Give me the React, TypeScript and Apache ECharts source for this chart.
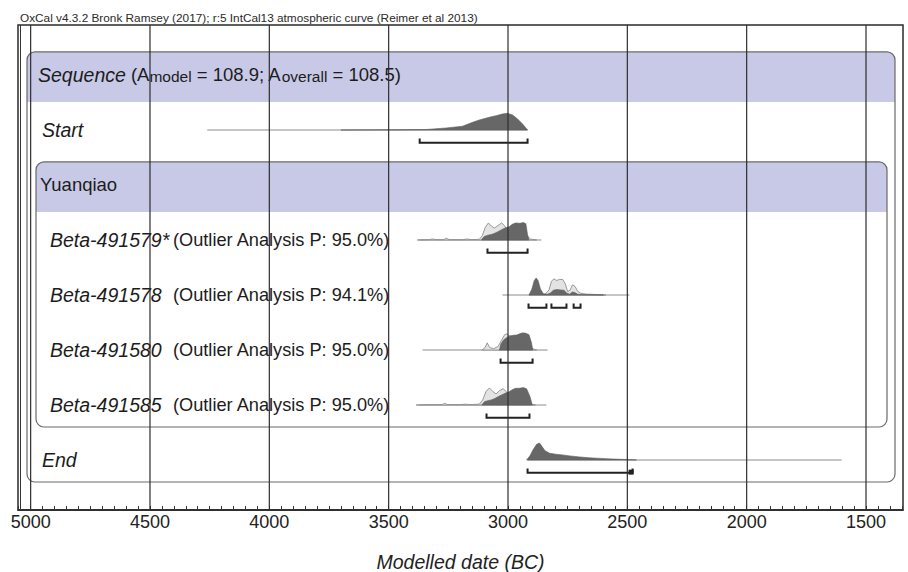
import React, { useEffect, useRef } from 'react';
import * as echarts from 'echarts';

const FONT = '"Liberation Sans", Arial, Helvetica, sans-serif';
const TITLE = 'OxCal v4.3.2 Bronk Ramsey (2017); r:5 IntCal13 atmospheric curve (Reimer et al 2013)';
const AXIS_NAME = 'Modelled date (BC)';

// x axis (years BC, reversed)
const X_MIN = 1345;
const X_MAX = 5053;
const MAJOR_TICKS = [1500, 2000, 2500, 3000, 3500, 4000, 4500, 5000];
const MINOR_TICKS: number[] = [];
for (let v = 1350; v <= 5050; v += 50) MINOR_TICKS.push(v);

// rows (index = row position from the top)
const ROW_LABELS = [
  '{i|Sequence}{n| (A}{s|model}{n| = 108.9; A}{s|overall}{n| = 108.5)}',
  '{i|Start}',
  '{n|Yuanqiao}',
  '{i|Beta-491579*}',
  '{i|Beta-491578}',
  '{i|Beta-491580}',
  '{i|Beta-491585}',
  '{i|End}',
];
const ROW_NOTES = [
  '',
  '',
  '',
  '(Outlier Analysis P: 95.0%)',
  '(Outlier Analysis P: 94.1%)',
  '(Outlier Analysis P: 95.0%)',
  '(Outlier Analysis P: 95.0%)',
  '',
];

// grouping boxes: first row, last row, nesting depth
const GROUP_FROM = [0, 2];
const GROUP_TO = [7, 6];
const GROUP_DEPTH = [0, 1];

// Start boundary
const START_RANGE = [4260, 2918];
const START_POSTERIOR = [
  [3700, 0], [3600, 0.005], [3450, 0.01], [3341, 0.03], [3258, 0.12], [3191, 0.22],
  [3148, 0.45], [3120, 0.59], [3078, 0.75], [3050, 0.84], [3023, 0.94], [3002, 0.98],
  [2981, 0.88], [2960, 0.65], [2939, 0.35], [2918, 0],
];
const START_HPD = [[3370, 2918]];

// Beta-491579*
const B579_RANGE = [3370, 2860];
const B579_PRIOR = [
  [3380, 0], [3330, 0.02], [3316, 0.06], [3300, 0.02], [3270, 0.02], [3258, 0.1], [3246, 0.02],
  [3190, 0.02], [3170, 0.06], [3155, 0.02], [3120, 0.04], [3108, 0.25], [3095, 0.75],
  [3082, 1.0], [3070, 0.82], [3057, 0.7], [3042, 0.85], [3027, 1.0], [3015, 0.85],
  [3004, 0.6], [2990, 0.55], [2970, 0.55], [2950, 0.5], [2932, 0.45], [2920, 0.25],
  [2905, 0.05], [2880, 0],
];
const B579_POSTERIOR = [
  [3112, 0], [3100, 0.2], [3085, 0.28], [3070, 0.32], [3055, 0.4], [3040, 0.5], [3025, 0.62],
  [3010, 0.72], [2995, 0.78], [2982, 0.92], [2968, 1.0], [2950, 0.98], [2935, 1.02],
  [2925, 0.95], [2918, 0.3], [2912, 0],
];
const B579_HPD = [[3086, 2918]];

// Beta-491578
const B578_RANGE = [3023, 2491];
const B578_PRIOR = [
  [2912, 0], [2895, 0.08], [2882, 0.15], [2868, 0.08], [2845, 0.04], [2828, 0.3], [2818, 0.8],
  [2808, 0.95], [2796, 0.85], [2784, 0.92], [2770, 0.9], [2760, 0.65], [2750, 0.2],
  [2740, 0.28], [2730, 0.6], [2719, 0.5], [2708, 0.22], [2695, 0.1], [2670, 0.05],
  [2630, 0.03], [2590, 0],
];
const B578_POSTERIOR = [
  [2912, 0], [2900, 0.35], [2890, 0.85], [2882, 1.0], [2874, 0.85], [2864, 0.35], [2852, 0.08],
  [2835, 0.04], [2822, 0.12], [2810, 0.28], [2795, 0.32], [2780, 0.3], [2765, 0.28],
  [2755, 0.12], [2742, 0.05], [2730, 0.18], [2720, 0.14], [2708, 0.05], [2690, 0.02],
  [2640, 0.01], [2600, 0],
];
const B578_HPD = [[2914, 2839], [2818, 2755], [2725, 2696]];

// Beta-491580
const B580_RANGE = [3358, 2834];
const B580_PRIOR = [
  [3110, 0], [3097, 0.12], [3087, 0.42], [3077, 0.15], [3060, 0.08], [3042, 0.2], [3028, 0.55],
  [3014, 0.9], [3005, 0.95], [2995, 0.85], [2982, 0.78], [2968, 0.82], [2955, 0.92],
  [2940, 1.0], [2928, 0.95], [2915, 0.5], [2902, 0.1], [2880, 0],
];
const B580_POSTERIOR = [
  [3036, 0], [3030, 0.35], [3018, 0.6], [3006, 0.72], [2992, 0.82], [2978, 0.86], [2962, 0.88],
  [2948, 0.95], [2935, 1.0], [2925, 0.98], [2912, 0.9], [2902, 0.45], [2896, 0],
];
const B580_HPD = [[3031, 2897]];

// Beta-491585
const B585_RANGE = [3371, 2839];
const B585_PRIOR = [
  [3385, 0], [3340, 0.02], [3300, 0.02], [3275, 0.03], [3266, 0.1], [3255, 0.03], [3200, 0.02],
  [3178, 0.05], [3160, 0.02], [3120, 0.05], [3106, 0.3], [3092, 0.8], [3078, 1.0],
  [3064, 0.8], [3050, 0.65], [3035, 0.85], [3020, 0.95], [3008, 0.8], [2998, 0.62],
  [2985, 0.55], [2965, 0.55], [2945, 0.5], [2928, 0.45], [2918, 0.25], [2905, 0.05], [2885, 0],
];
const B585_POSTERIOR = [
  [3110, 0], [3098, 0.2], [3085, 0.25], [3070, 0.3], [3055, 0.38], [3040, 0.5], [3025, 0.6],
  [3010, 0.7], [2995, 0.78], [2982, 0.9], [2968, 0.98], [2952, 0.98], [2936, 1.02],
  [2922, 0.95], [2908, 0.5], [2898, 0],
];
const B585_HPD = [[3090, 2910]];

// End boundary
const END_RANGE = [2918, 1602];
const END_POSTERIOR = [
  [2922, 0], [2908, 0.25], [2895, 0.6], [2880, 0.92], [2868, 1.0], [2858, 0.8], [2845, 0.55],
  [2826, 0.4], [2800, 0.34], [2772, 0.3], [2740, 0.24], [2700, 0.18], [2660, 0.13],
  [2629, 0.11], [2590, 0.08], [2562, 0.06], [2530, 0.04], [2504, 0.03], [2480, 0.015],
  [2462, 0],
];
const END_HPD = [[2918, 2478]];

type Dist = {
  row: number;
  range: number[];
  prior: number[][] | null;
  post: number[][];
  hpd: number[][];
  endMark?: boolean;
};

const DISTS: Dist[] = [
  { row: 1, range: START_RANGE, prior: null, post: START_POSTERIOR, hpd: START_HPD },
  { row: 3, range: B579_RANGE, prior: B579_PRIOR, post: B579_POSTERIOR, hpd: B579_HPD },
  { row: 4, range: B578_RANGE, prior: B578_PRIOR, post: B578_POSTERIOR, hpd: B578_HPD },
  { row: 5, range: B580_RANGE, prior: B580_PRIOR, post: B580_POSTERIOR, hpd: B580_HPD },
  { row: 6, range: B585_RANGE, prior: B585_PRIOR, post: B585_POSTERIOR, hpd: B585_HPD },
  { row: 7, range: END_RANGE, prior: null, post: END_POSTERIOR, hpd: END_HPD, endMark: true },
];

// layout constants (row units)
const ROW_MIN = -0.909;
const ROW_MAX = 7.909;
const PEAK = 0.31;
const BRACKET = 0.23;
const BRACKET_TICK = 0.075;
const LABEL_INSETS = [20, 24, 22, 32, 32, 32, 32, 24];
const NOTE_INSET = 155;
const LAVENDER = '#c8c9e7';
const TEXT = '#1c1c1c';

const RICH = {
  i: { fontStyle: 'italic', fontSize: 19.5, fontFamily: FONT, color: TEXT, fill: TEXT },
  n: { fontSize: 18.5, fontFamily: FONT, color: TEXT, fill: TEXT },
  s: { fontSize: 15.5, fontFamily: FONT, color: TEXT, fill: TEXT, verticalAlign: 'bottom' },
};

export default function App() {
  const ref = useRef<HTMLDivElement>(null);
  useEffect(() => {
    if (!ref.current) return;
    const chart = echarts.init(ref.current, undefined, { renderer: 'svg' });
    const option: any = {
      animation: false,
      backgroundColor: '#ffffff',
      title: {
        text: TITLE,
        left: 20,
        top: 12,
        padding: 0,
        textStyle: { fontSize: 11.8, fontWeight: 'normal', color: '#2a2a2a', fontFamily: FONT },
      },
      grid: {
        left: 18,
        right: 5,
        top: 25,
        bottom: 62,
        show: true,
        borderColor: '#2a2a2a',
        borderWidth: 1.5,
        backgroundColor: '#fff',
        outerBoundsMode: 'none',
      },
      xAxis: {
        type: 'value',
        min: X_MIN,
        max: X_MAX,
        inverse: true,
        name: AXIS_NAME,
        nameLocation: 'middle',
        nameGap: 42,
        nameTextStyle: { fontStyle: 'italic', fontSize: 19.5, color: '#222', fontFamily: FONT },
        axisLine: { show: true, onZero: false, lineStyle: { color: '#222', width: 1.5 } },
        axisTick: {
          show: true,
          inside: true,
          length: 4,
          customValues: MINOR_TICKS,
          lineStyle: { color: '#333', width: 1 },
        },
        axisLabel: {
          customValues: MAJOR_TICKS,
          formatter: (v: number) => String(v),
          fontSize: 18,
          color: '#222',
          fontFamily: FONT,
          margin: 3,
        },
        splitLine: { show: false },
      },
      yAxis: {
        type: 'value',
        min: ROW_MIN,
        max: ROW_MAX,
        inverse: true,
        axisLine: { show: false },
        axisTick: { show: false },
        axisLabel: { show: false },
        splitLine: { show: false },
      },
      series: [
        {
          type: 'custom',
          name: 'groups',
          silent: true,
          z: 1,
          data: GROUP_FROM.map((f) => [3000, f]),
          renderItem: (params: any, api: any) => {
            const i = params.dataIndex;
            const cs = params.coordSys;
            const from = GROUP_FROM[i];
            const to = GROUP_TO[i];
            const depth = GROUP_DEPTH[i];
            const top = api.coord([3000, from - 0.42])[1];
            const headBottom = api.coord([3000, from + 0.49])[1];
            const bottom = api.coord([3000, to + 0.4])[1];
            const left = cs.x + 9 + 9 * depth;
            const right = cs.x + cs.width - 8 - 8 * depth;
            return {
              type: 'group',
              children: [
                {
                  type: 'rect',
                  shape: { x: left, y: top, width: right - left, height: headBottom - top, r: [8, 8, 0, 0] },
                  style: { fill: LAVENDER },
                },
                {
                  type: 'rect',
                  shape: { x: left, y: top, width: right - left, height: bottom - top, r: 8 },
                  style: { fill: 'none', stroke: '#6a6a6a', lineWidth: 1.2 },
                },
              ],
            };
          },
        },
        {
          type: 'custom',
          name: 'distributions',
          silent: true,
          z: 2,
          data: DISTS.map((d) => [d.range[1], d.row]),
          renderItem: (params: any, api: any) => {
            const d = DISTS[params.dataIndex];
            const pt = (yr: number, r: number) => api.coord([yr, r]);
            const children: any[] = [];
            const [xa, y0] = pt(d.range[0], d.row);
            const [xb] = pt(d.range[1], d.row);
            children.push({
              type: 'line',
              shape: { x1: xa, y1: y0, x2: xb, y2: y0 },
              style: { stroke: '#8c8c8c', lineWidth: 1 },
            });
            if (d.prior) {
              children.push({
                type: 'polygon',
                shape: { points: d.prior.map(([yr, h]) => pt(yr, d.row - h * PEAK)) },
                style: { fill: '#e3e3e3', stroke: '#8e8e8e', lineWidth: 0.9 },
              });
            }
            children.push({
              type: 'polygon',
              shape: { points: d.post.map(([yr, h]) => pt(yr, d.row - h * PEAK)) },
              style: { fill: '#676767', stroke: '#5c5c5c', lineWidth: 0.6 },
            });
            d.hpd.forEach(([a, b], k) => {
              const [x1, yb] = pt(a, d.row + BRACKET);
              const [x2] = pt(b, d.row + BRACKET);
              const yt = pt(a, d.row + BRACKET - BRACKET_TICK)[1];
              children.push({
                type: 'polyline',
                shape: { points: [[x1, yt], [x1, yb], [x2, yb], [x2, yt]] },
                style: { stroke: '#222', lineWidth: 2, fill: null },
              });
              if (d.endMark && k === d.hpd.length - 1) {
                children.push({
                  type: 'rect',
                  shape: { x: x2 - 4, y: yb - 3, width: 5, height: 5 },
                  style: { fill: '#222' },
                });
              }
            });
            return { type: 'group', children };
          },
        },
        {
          type: 'custom',
          name: 'labels',
          silent: true,
          z: 3,
          data: ROW_LABELS.map((_, i) => [3000, i]),
          renderItem: (params: any, api: any) => {
            const i = params.dataIndex;
            const cs = params.coordSys;
            const y = api.coord([3000, i])[1];
            const children: any[] = [
              {
                type: 'text',
                x: cs.x + LABEL_INSETS[i],
                y,
                style: {
                  text: ROW_LABELS[i],
                  rich: RICH,
                  fill: TEXT,
                  fontSize: 18.5,
                  fontFamily: FONT,
                  align: 'left',
                  verticalAlign: 'middle',
                },
              },
            ];
            if (ROW_NOTES[i]) {
              children.push({
                type: 'text',
                x: cs.x + NOTE_INSET,
                y,
                style: {
                  text: ROW_NOTES[i],
                  fill: TEXT,
                  fontSize: 18.2,
                  fontFamily: FONT,
                  align: 'left',
                  verticalAlign: 'middle',
                },
              });
            }
            return { type: 'group', children };
          },
        },
        {
          type: 'custom',
          name: 'gridlines',
          silent: true,
          z: 4,
          data: MAJOR_TICKS.map((v) => [v, 0]),
          renderItem: (params: any, api: any) => {
            const cs = params.coordSys;
            const x = api.coord([api.value(0), 0])[0];
            const children: any[] = [
              {
                type: 'line',
                shape: { x1: x, y1: cs.y, x2: x, y2: cs.y + cs.height },
                style: { stroke: '#2e2e2e', lineWidth: 1.2 },
              },
            ];
            if (params.dataIndex === 0) {
              children.push({
                type: 'line',
                shape: { x1: cs.x + 2.5, y1: cs.y, x2: cs.x + 2.5, y2: cs.y + cs.height },
                style: { stroke: '#333', lineWidth: 1 },
              });
            }
            return { type: 'group', children };
          },
        },
      ],
    };
    chart.setOption(option);
    return () => chart.dispose();
  }, []);
  return (
    <div
      ref={ref}
      style={{ position: 'fixed', left: 0, top: 0, width: 908, height: 572, background: '#fff' }}
    />
  );
}
